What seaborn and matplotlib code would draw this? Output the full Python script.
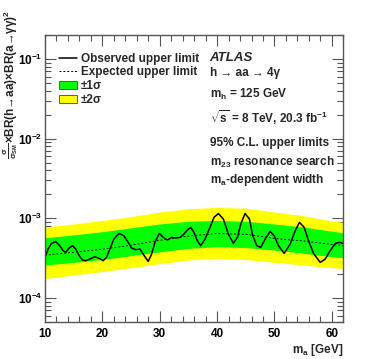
import matplotlib
matplotlib.use("Agg")
import matplotlib.pyplot as plt
import seaborn as sns
import pandas as pd
from matplotlib.lines import Line2D
from matplotlib.patches import Patch
from matplotlib.ticker import MultipleLocator, LogLocator, NullFormatter

# observed limit
obs_mass = [10.0, 10.56, 11.14, 11.90, 12.59, 13.18, 13.64, 14.22, 14.81, 15.39, 15.97, 16.55,
            17.13, 17.83, 18.70, 19.46, 20.16, 20.74, 21.32, 22.02, 22.95, 23.76, 24.52, 25.10,
            25.86, 26.56, 27.31, 28.01, 28.59, 29.17, 29.93, 30.63, 31.33, 32.08, 32.84, 33.54,
            34.12, 34.82, 35.40, 35.98, 36.56, 37.14, 37.90, 38.77, 39.47, 40.23, 41.10, 41.97,
            42.84, 43.54, 44.13, 44.88, 45.64, 46.22, 46.92, 47.61, 48.37, 49.24, 49.94, 50.70,
            51.69, 52.73, 53.61, 54.36, 55.18, 55.93, 56.81, 57.97, 58.84, 59.71, 60.59, 61.34,
            62.0]
obs_limit = [3.24e-4, 4.12e-4, 4.85e-4, 5.09e-4, 4.54e-4, 3.93e-4, 3.74e-4, 4.24e-4, 4.54e-4,
             4.12e-4, 3.40e-4, 3.00e-4, 2.94e-4, 3.08e-4, 3.30e-4, 3.15e-4, 2.94e-4, 3.24e-4,
             4.12e-4, 5.50e-4, 6.48e-4, 6.05e-4, 4.99e-4, 4.24e-4, 4.04e-4, 4.12e-4, 3.40e-4,
             2.88e-4, 3.56e-4, 4.99e-4, 6.48e-4, 5.77e-4, 5.34e-4, 5.77e-4, 5.66e-4, 5.77e-4,
             6.23e-4, 7.13e-4, 7.70e-4, 6.67e-4, 5.24e-4, 4.54e-4, 5.50e-4, 7.70e-4, 1.03e-3,
             1.15e-3, 9.8e-4, 6.35e-4, 4.85e-4, 5.77e-4, 8.48e-4, 1.15e-3, 9.8e-4, 6.05e-4,
             4.54e-4, 4.32e-4, 5.50e-4, 6.86e-4, 6.05e-4, 4.54e-4, 3.63e-4, 4.75e-4, 7.0e-4,
             8.9e-4, 7.7e-4, 5.24e-4, 3.63e-4, 2.80e-4, 3.08e-4, 3.93e-4, 4.85e-4, 4.99e-4,
             4.85e-4]

# expected limit and bands
band_mass = [10, 15, 20, 25, 30, 35, 40, 45, 50, 55, 60, 62]
exp_limit = [3.45e-4, 3.75e-4, 4.1e-4, 4.6e-4, 5.3e-4, 6.0e-4, 6.45e-4, 6.3e-4, 5.6e-4, 5.2e-4, 4.7e-4, 4.55e-4]
one_sig_lo = [2.6e-4, 2.8e-4, 3.05e-4, 3.4e-4, 3.8e-4, 4.2e-4, 4.4e-4, 4.3e-4, 4.0e-4, 3.65e-4, 3.3e-4, 3.2e-4]
one_sig_hi = [5.7e-4, 6.2e-4, 6.8e-4, 7.6e-4, 8.5e-4, 9.2e-4, 9.4e-4, 9.2e-4, 8.5e-4, 7.8e-4, 6.9e-4, 6.6e-4]
two_sig_lo = [1.75e-4, 1.95e-4, 2.15e-4, 2.4e-4, 2.7e-4, 3.0e-4, 3.15e-4, 3.05e-4, 2.8e-4, 2.6e-4, 2.4e-4, 2.35e-4]
two_sig_hi = [7.8e-4, 8.5e-4, 9.4e-4, 1.05e-3, 1.2e-3, 1.32e-3, 1.37e-3, 1.34e-3, 1.2e-3, 1.08e-3, 9.3e-4, 8.9e-4]

sns.set_theme(style="ticks")
plt.rcParams["font.family"] = ["Liberation Sans", "DejaVu Sans"]
plt.rcParams["font.weight"] = "bold"
plt.rcParams["mathtext.fontset"] = "custom"
plt.rcParams["mathtext.rm"] = "Liberation Sans:bold"
plt.rcParams["mathtext.bf"] = "Liberation Sans:bold"
plt.rcParams["mathtext.it"] = "Liberation Sans:bold"
plt.rcParams["mathtext.default"] = "bf"

obs_df = pd.DataFrame({"mass": obs_mass, "limit": obs_limit})
exp_df = pd.DataFrame({"mass": band_mass, "limit": exp_limit})

fig = plt.figure(figsize=(3.74, 3.59), dpi=100)
ax = fig.add_axes([0.120, 0.103, 0.798, 0.7995])

ax.fill_between(band_mass, two_sig_lo, two_sig_hi, color="#ffff00", lw=0)
ax.fill_between(band_mass, one_sig_lo, one_sig_hi, color="#00ff00", lw=0)
sns.lineplot(data=exp_df, x="mass", y="limit", ax=ax, color="black", lw=0.7,
             linestyle=(0, (2, 2)), estimator=None, sort=False)
sns.lineplot(data=obs_df, x="mass", y="limit", ax=ax, color="black", lw=1.1,
             estimator=None, sort=False)

ax.set_yscale("log")
ax.set_xlim(10, 62)
ax.set_ylim(5e-5, 0.2)
ax.set_xlabel("")
ax.set_ylabel("")

frame = "#555555"
for sp in ax.spines.values():
    sp.set_color(frame)
    sp.set_linewidth(1.0)
ax.xaxis.set_major_locator(MultipleLocator(10))
ax.xaxis.set_minor_locator(MultipleLocator(2))
ax.yaxis.set_major_locator(LogLocator(base=10))
ax.yaxis.set_minor_locator(LogLocator(base=10, subs=range(2, 10)))
ax.yaxis.set_minor_formatter(NullFormatter())
ax.tick_params(which="both", direction="in", top=True, right=True, color=frame,
               labelsize=8.5, labelcolor="black", width=0.8)
ax.tick_params(which="major", length=8)
ax.tick_params(which="minor", length=4)
ax.tick_params(axis="x", which="major", pad=4)
ax.tick_params(axis="y", which="major", pad=2)
for lab in ax.get_xticklabels() + ax.get_yticklabels():
    lab.set_fontweight("bold")

handles = [Line2D([], [], color="black", lw=1.1),
           Line2D([], [], color="black", lw=0.7, linestyle=(0, (2, 2))),
           Patch(facecolor="#00ff00", edgecolor="#444444", lw=0.6),
           Patch(facecolor="#ffff00", edgecolor="#444444", lw=0.6)]
labels = ["Observed upper limit", "Expected upper limit", "±1σ", "±2σ"]
ax.legend(handles, labels, loc="upper left", bbox_to_anchor=(0.03, 0.955), frameon=False,
          fontsize=8.5, handlelength=1.6, handleheight=0.7, handletextpad=0.3,
          labelspacing=0.15, borderaxespad=0)

tx = 0.552
ax.text(tx, 0.92, "ATLAS", transform=ax.transAxes, fontsize=9.5, style="italic",
        fontweight="bold", va="center")
ax.text(tx, 0.868, "h → aa → 4γ", transform=ax.transAxes, fontsize=8.5, va="center")
ax.text(tx, 0.793, r"m$_{\rm h}$ = 125 GeV", transform=ax.transAxes, fontsize=8.5, va="center")
ax.text(tx, 0.711, r"$\sqrt{\rm s}$ = 8 TeV, 20.3 fb$^{-1}$", transform=ax.transAxes,
        fontsize=8.5, va="center")
ax.text(tx, 0.625, "95% C.L. upper limits", transform=ax.transAxes, fontsize=8.5, va="center")
ax.text(tx, 0.557, r"m$_{23}$ resonance search", transform=ax.transAxes, fontsize=8.5, va="center")
ax.text(tx, 0.494, r"m$_{\rm a}$-dependent width", transform=ax.transAxes, fontsize=8.5,
        va="center")

fig.text(0.918, 1 - 350 / 359, r"m$_{\rm a}$ [GeV]", ha="right", va="center", fontsize=8.5)
fig.text(0.002, 1 - 10 / 359,
         r"$\frac{\sigma}{\sigma_{\rm SM}}$×BR(h→aa)×BR(a→γγ)$^{2}$",
         rotation=90, ha="left", va="top", fontsize=8.5)

fig.savefig("out.png", dpi=100)
